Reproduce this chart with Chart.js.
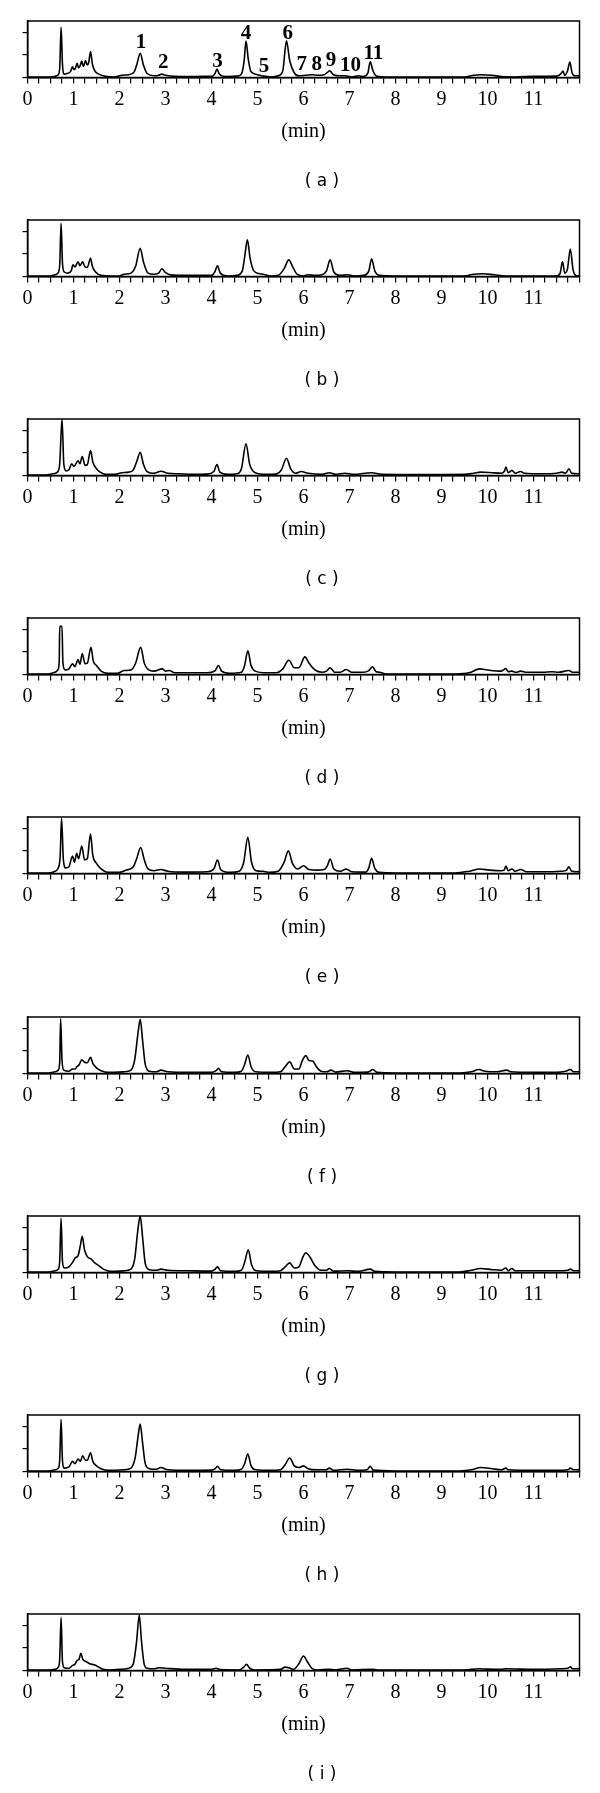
<!DOCTYPE html>
<html>
<head>
<meta charset="utf-8">
<script src="https://cdn.jsdelivr.net/npm/chart.js"></script>
<style>
  body { margin: 0; background: #fff; }
  #page { position: relative; width: 600px; height: 1793px; overflow: hidden; }
  .panel { position: absolute; left: 0; width: 600px; height: 199px; }
  .panel canvas { position: absolute; left: 0; top: 0; }
  .cap { position: absolute; left: 322px; top: 169px; transform: translateX(-50%);
         font: 17px "DejaVu Sans", sans-serif; line-height: 22px; white-space: pre; color: #000; }
</style>
</head>
<body>
<div id="page"></div>
<script>
// retention time (min) / detector response
var traceA = [[0,0.04],[0.5,0.05],[0.6,0.1],[0.66,0.2],[0.7,0.8],[0.73,4.45],[0.76,1.2],[0.8,0.3],[0.86,0.35],[0.93,0.5],[0.98,0.95],[1.01,0.7],[1.04,0.8],[1.08,1.25],[1.11,0.85],[1.14,1.0],[1.18,1.45],[1.21,1.0],[1.23,1.1],[1.26,1.5],[1.3,1.1],[1.33,1.3],[1.37,2.3],[1.41,1.2],[1.46,0.6],[1.55,0.3],[1.7,0.1],[1.9,0.05],[2.05,0.2],[2.2,0.25],[2.32,0.5],[2.38,1.2],[2.45,2.15],[2.52,1.1],[2.6,0.35],[2.75,0.15],[2.85,0.2],[2.92,0.3],[3.0,0.2],[3.2,0.1],[3.5,0.08],[3.8,0.1],[4.0,0.1],[4.07,0.3],[4.12,0.75],[4.17,0.3],[4.3,0.08],[4.55,0.12],[4.65,0.3],[4.71,1.5],[4.75,3.22],[4.8,1.6],[4.86,0.5],[5.0,0.25],[5.13,0.12],[5.3,0.05],[5.45,0.15],[5.55,0.6],[5.63,3.25],[5.7,1.5],[5.8,0.4],[5.9,0.15],[6.05,0.2],[6.2,0.25],[6.3,0.2],[6.45,0.25],[6.52,0.45],[6.57,0.6],[6.65,0.25],[6.8,0.15],[6.9,0.15],[7.05,0.05],[7.2,0.15],[7.3,0.08],[7.4,0.4],[7.45,1.4],[7.51,0.6],[7.6,0.1],[7.8,0.05],[8.5,0.05],[9.5,0.05],[9.7,0.2],[9.85,0.25],[10.1,0.2],[10.3,0.08],[10.6,0.05],[11.0,0.1],[11.5,0.12],[11.6,0.35],[11.64,0.56],[11.68,0.2],[11.74,0.6],[11.79,1.36],[11.84,0.4],[11.9,0.15],[12,0.15]];
var traceB = [[0,0.04],[0.5,0.05],[0.6,0.15],[0.66,0.3],[0.7,1.0],[0.73,4.7],[0.76,1.2],[0.8,0.4],[0.88,0.3],[0.95,0.5],[0.99,1.03],[1.03,0.85],[1.1,1.3],[1.14,0.95],[1.2,1.3],[1.25,0.85],[1.3,0.8],[1.37,1.6],[1.41,0.9],[1.48,0.4],[1.6,0.1],[1.8,0.05],[2.0,0.05],[2.1,0.2],[2.25,0.3],[2.35,0.9],[2.45,2.5],[2.52,1.3],[2.62,0.3],[2.75,0.2],[2.85,0.3],[2.92,0.68],[3.0,0.35],[3.15,0.12],[3.5,0.1],[3.8,0.1],[4.0,0.1],[4.07,0.4],[4.13,0.94],[4.19,0.3],[4.35,0.05],[4.55,0.1],[4.67,0.5],[4.73,2.0],[4.78,3.24],[4.84,1.6],[4.92,0.5],[5.05,0.25],[5.12,0.2],[5.3,0.05],[5.45,0.1],[5.58,0.7],[5.68,1.47],[5.76,0.9],[5.86,0.2],[6.0,0.05],[6.1,0.15],[6.25,0.1],[6.4,0.15],[6.5,0.5],[6.58,1.47],[6.66,0.4],[6.8,0.1],[6.95,0.15],[7.1,0.05],[7.3,0.1],[7.42,0.5],[7.48,1.56],[7.55,0.5],[7.65,0.1],[8.0,0.05],[9.5,0.05],[9.7,0.2],[9.9,0.25],[10.15,0.15],[10.4,0.05],[10.8,0.05],[11.5,0.05],[11.58,0.3],[11.63,1.32],[11.68,0.3],[11.74,0.7],[11.8,2.44],[11.86,0.6],[11.92,0.1],[12,0.05]];
var traceC = [[0,0.04],[0.4,0.05],[0.55,0.15],[0.65,0.3],[0.7,1.0],[0.75,5.0],[0.79,1.0],[0.84,0.4],[0.9,0.5],[0.96,1.03],[1.01,0.8],[1.1,1.3],[1.14,1.05],[1.19,1.68],[1.25,0.9],[1.3,0.95],[1.37,2.2],[1.42,1.2],[1.5,0.6],[1.58,0.3],[1.7,0.1],[1.9,0.1],[2.05,0.25],[2.2,0.3],[2.3,0.5],[2.38,1.3],[2.45,2.06],[2.52,1.0],[2.6,0.35],[2.75,0.2],[2.9,0.38],[3.05,0.2],[3.3,0.15],[3.6,0.1],[3.9,0.12],[4.05,0.35],[4.12,0.97],[4.18,0.3],[4.35,0.1],[4.55,0.15],[4.65,0.6],[4.75,2.8],[4.83,1.0],[4.95,0.25],[5.2,0.1],[5.4,0.12],[5.52,0.5],[5.63,1.53],[5.72,0.6],[5.82,0.2],[5.95,0.35],[6.1,0.2],[6.4,0.1],[6.56,0.25],[6.7,0.1],[6.9,0.2],[7.1,0.1],[7.48,0.25],[7.7,0.1],[8.5,0.08],[9.5,0.1],[9.7,0.2],[9.85,0.3],[10.1,0.25],[10.3,0.2],[10.37,0.4],[10.4,0.74],[10.45,0.25],[10.53,0.45],[10.6,0.2],[10.72,0.35],[10.8,0.2],[11.2,0.15],[11.5,0.2],[11.62,0.3],[11.7,0.2],[11.77,0.6],[11.83,0.2],[12,0.15]];
var traceD = [[0,0.04],[0.45,0.05],[0.6,0.2],[0.66,0.4],[0.69,1.2],[0.7,4.26],[0.75,4.26],[0.77,1.0],[0.82,0.4],[0.9,0.5],[0.98,0.94],[1.03,0.7],[1.1,1.32],[1.14,0.9],[1.19,1.85],[1.25,0.95],[1.3,1.0],[1.38,2.4],[1.43,1.2],[1.5,0.8],[1.6,0.3],[1.75,0.1],[1.95,0.1],[2.1,0.35],[2.25,0.4],[2.35,1.0],[2.46,2.4],[2.54,1.0],[2.62,0.45],[2.75,0.3],[2.93,0.5],[3.0,0.3],[3.08,0.35],[3.2,0.15],[3.5,0.15],[3.9,0.15],[4.08,0.35],[4.15,0.8],[4.22,0.3],[4.4,0.1],[4.65,0.2],[4.72,0.8],[4.79,2.1],[4.86,0.8],[4.95,0.3],[5.2,0.15],[5.4,0.15],[5.55,0.5],[5.68,1.26],[5.8,0.6],[5.9,0.6],[6.03,1.56],[6.12,1.0],[6.25,0.4],[6.4,0.2],[6.5,0.3],[6.58,0.59],[6.68,0.2],[6.8,0.2],[6.93,0.44],[7.05,0.2],[7.3,0.2],[7.42,0.35],[7.5,0.68],[7.58,0.25],[7.65,0.2],[7.8,0.05],[8.5,0.05],[9.3,0.05],[9.6,0.15],[9.83,0.5],[10.0,0.4],[10.3,0.3],[10.4,0.53],[10.45,0.25],[10.53,0.3],[10.62,0.2],[10.72,0.3],[10.85,0.2],[11.2,0.2],[11.4,0.25],[11.55,0.2],[11.77,0.35],[11.85,0.2],[12,0.2]];
var traceE = [[0,0.04],[0.45,0.05],[0.6,0.2],[0.67,0.5],[0.71,1.5],[0.74,4.9],[0.78,1.2],[0.83,0.5],[0.9,0.6],[0.98,1.55],[1.02,1.0],[1.07,1.78],[1.11,1.3],[1.18,2.44],[1.24,1.2],[1.3,1.3],[1.37,3.5],[1.42,1.6],[1.5,0.9],[1.6,0.4],[1.75,0.1],[2.0,0.1],[2.15,0.3],[2.3,0.6],[2.38,1.4],[2.46,2.3],[2.54,1.2],[2.62,0.4],[2.75,0.25],[2.9,0.36],[3.05,0.2],[3.4,0.12],[3.9,0.15],[4.05,0.4],[4.13,1.19],[4.2,0.35],[4.4,0.1],[4.6,0.2],[4.7,1.0],[4.79,3.2],[4.87,1.0],[4.97,0.25],[5.12,0.2],[5.25,0.1],[5.45,0.2],[5.58,1.0],[5.67,2.0],[5.76,0.9],[5.88,0.4],[6.0,0.68],[6.12,0.35],[6.3,0.3],[6.45,0.35],[6.52,0.7],[6.58,1.28],[6.66,0.4],[6.8,0.2],[6.93,0.39],[7.05,0.15],[7.35,0.12],[7.42,0.5],[7.48,1.34],[7.55,0.45],[7.65,0.1],[8.0,0.05],[9.3,0.05],[9.6,0.2],[9.83,0.4],[10.05,0.3],[10.3,0.25],[10.36,0.3],[10.4,0.65],[10.45,0.25],[10.53,0.4],[10.6,0.2],[10.72,0.35],[10.85,0.15],[11.2,0.15],[11.6,0.2],[11.72,0.3],[11.77,0.6],[11.83,0.2],[12,0.15]];
var traceF = [[0,0.04],[0.45,0.05],[0.6,0.15],[0.67,0.3],[0.7,1.0],[0.72,4.85],[0.75,1.2],[0.79,0.3],[0.9,0.2],[0.98,0.4],[1.04,0.4],[1.07,0.6],[1.12,0.75],[1.18,1.22],[1.24,1.0],[1.3,0.95],[1.37,1.43],[1.42,0.9],[1.5,0.5],[1.6,0.25],[1.75,0.1],[2.1,0.15],[2.25,0.3],[2.33,1.2],[2.4,3.5],[2.45,4.8],[2.5,3.0],[2.56,0.8],[2.65,0.2],[2.8,0.15],[2.9,0.3],[3.05,0.15],[3.5,0.1],[4.0,0.1],[4.1,0.25],[4.15,0.45],[4.22,0.15],[4.5,0.1],[4.65,0.2],[4.72,0.8],[4.79,1.64],[4.86,0.6],[4.96,0.15],[5.3,0.1],[5.5,0.15],[5.6,0.6],[5.7,1.04],[5.8,0.4],[5.9,0.4],[5.97,1.1],[6.05,1.58],[6.12,1.15],[6.2,1.1],[6.28,0.6],[6.38,0.2],[6.5,0.15],[6.6,0.3],[6.7,0.12],[6.95,0.25],[7.1,0.1],[7.4,0.12],[7.51,0.35],[7.6,0.1],[8.0,0.05],[9.4,0.05],[9.65,0.15],[9.81,0.35],[9.95,0.2],[10.2,0.15],[10.42,0.3],[10.5,0.15],[11.0,0.1],[11.5,0.1],[11.7,0.2],[11.8,0.35],[11.87,0.15],[12,0.15]];
var traceG = [[0,0.04],[0.45,0.05],[0.6,0.15],[0.67,0.3],[0.7,1.0],[0.73,4.8],[0.76,1.0],[0.8,0.4],[0.9,0.5],[0.98,0.9],[1.04,1.3],[1.1,1.5],[1.15,2.4],[1.19,3.2],[1.24,2.0],[1.3,1.4],[1.38,1.2],[1.45,0.9],[1.55,0.6],[1.65,0.3],[1.8,0.1],[2.1,0.15],[2.25,0.3],[2.33,1.2],[2.4,3.8],[2.45,5.0],[2.5,3.2],[2.56,0.8],[2.65,0.25],[2.8,0.2],[2.9,0.3],[3.05,0.2],[3.5,0.15],[4.0,0.12],[4.08,0.3],[4.13,0.5],[4.2,0.15],[4.5,0.1],[4.65,0.2],[4.72,0.9],[4.8,2.0],[4.87,0.7],[4.97,0.15],[5.3,0.1],[5.5,0.15],[5.6,0.5],[5.7,0.85],[5.8,0.4],[5.9,0.5],[5.98,1.3],[6.05,1.75],[6.15,1.3],[6.25,0.6],[6.38,0.2],[6.5,0.2],[6.56,0.35],[6.65,0.12],[6.95,0.15],[7.2,0.1],[7.45,0.3],[7.55,0.1],[8.0,0.05],[9.4,0.05],[9.65,0.2],[9.85,0.35],[10.1,0.25],[10.3,0.2],[10.4,0.4],[10.45,0.15],[10.53,0.35],[10.6,0.15],[11.0,0.15],[11.5,0.15],[11.75,0.2],[11.8,0.3],[11.87,0.15],[12,0.15]];
var traceH = [[0,0.04],[0.45,0.05],[0.6,0.15],[0.67,0.3],[0.7,1.0],[0.73,4.6],[0.76,1.0],[0.8,0.3],[0.9,0.4],[0.98,0.9],[1.03,0.7],[1.1,1.1],[1.15,0.9],[1.2,1.4],[1.26,1.0],[1.3,1.0],[1.37,1.65],[1.42,0.9],[1.5,0.5],[1.6,0.25],[1.75,0.1],[2.1,0.15],[2.25,0.3],[2.34,1.2],[2.4,3.0],[2.45,4.2],[2.5,2.6],[2.56,0.7],[2.65,0.25],[2.8,0.2],[2.9,0.35],[3.05,0.15],[3.5,0.1],[4.0,0.12],[4.08,0.25],[4.13,0.45],[4.2,0.15],[4.5,0.1],[4.65,0.2],[4.72,0.7],[4.79,1.55],[4.86,0.5],[4.96,0.15],[5.3,0.1],[5.5,0.15],[5.6,0.6],[5.7,1.2],[5.8,0.5],[5.9,0.35],[6.0,0.5],[6.1,0.25],[6.3,0.15],[6.5,0.15],[6.56,0.3],[6.65,0.1],[6.95,0.2],[7.2,0.1],[7.38,0.15],[7.45,0.45],[7.52,0.12],[8.0,0.05],[9.4,0.05],[9.65,0.15],[9.85,0.35],[10.1,0.25],[10.3,0.15],[10.4,0.3],[10.45,0.15],[11.0,0.1],[11.5,0.1],[11.75,0.15],[11.8,0.3],[11.87,0.15],[12,0.15]];
var traceI = [[0,0.04],[0.45,0.05],[0.6,0.1],[0.67,0.3],[0.7,1.0],[0.73,4.7],[0.76,0.8],[0.8,0.25],[0.9,0.2],[0.98,0.45],[1.03,0.54],[1.08,0.9],[1.12,1.0],[1.16,1.52],[1.2,1.0],[1.27,0.8],[1.35,0.6],[1.45,0.5],[1.55,0.3],[1.65,0.1],[1.8,0.05],[2.0,0.1],[2.2,0.2],[2.3,0.6],[2.37,2.5],[2.43,4.9],[2.48,2.5],[2.54,0.5],[2.6,0.2],[2.75,0.15],[2.85,0.25],[3.0,0.2],[3.4,0.1],[4.0,0.1],[4.1,0.2],[4.2,0.08],[4.6,0.05],[4.7,0.3],[4.76,0.54],[4.83,0.2],[4.95,0.05],[5.5,0.1],[5.6,0.3],[5.68,0.25],[5.78,0.1],[5.9,0.6],[6.0,1.28],[6.08,0.8],[6.18,0.2],[6.3,0.05],[6.55,0.1],[6.7,0.05],[6.95,0.2],[7.05,0.05],[7.5,0.1],[7.6,0.05],[9.5,0.05],[9.8,0.15],[10.0,0.12],[10.3,0.1],[10.4,0.15],[11.0,0.1],[11.6,0.15],[11.75,0.2],[11.8,0.33],[11.85,0.15],[12,0.15]];

var traces = [traceA, traceB, traceC, traceD, traceE, traceF, traceG, traceH, traceI];
var panelNames = ['a', 'b', 'c', 'd', 'e', 'f', 'g', 'h', 'i'];

// numbered peaks in panel (a): label, retention time, height of the label
var peakNums = ['1', '2', '3', '4', '5', '6', '7', '8', '9', '10', '11'];
var peakTimes = [2.47, 2.95, 4.13, 4.75, 5.14, 5.66, 5.96, 6.29, 6.6, 7.02, 7.52];
var peakLabelY = [3.07, 1.3, 1.45, 3.9, 0.95, 3.9, 1.1, 1.1, 1.54, 1.04, 2.1];

var xMax = 12;
var yMax = 5;

var PANEL_H = 199.1;
var page = document.getElementById('page');

// box round the plot area
var framePlugin = {
    id: 'frame',
    afterDraw: function (chart) {
        var a = chart.chartArea;
        var ctx = chart.ctx;
        ctx.save();
        ctx.strokeStyle = '#000';
        ctx.lineWidth = 1.5;
        ctx.strokeRect(a.left, a.top, a.right - a.left, a.bottom - a.top);
        ctx.restore();
    }
};

var peakLabelPlugin = {
    id: 'peakLabels',
    afterDatasetsDraw: function (chart) {
        var ctx = chart.ctx;
        var xs = chart.scales.x;
        var ys = chart.scales.y;
        ctx.save();
        ctx.fillStyle = '#000';
        ctx.font = 'bold 21px "Liberation Serif", serif';
        ctx.textAlign = 'center';
        ctx.textBaseline = 'middle';
        for (var i = 0; i < peakNums.length; i++) {
            ctx.fillText(peakNums[i], xs.getPixelForValue(peakTimes[i]), ys.getPixelForValue(peakLabelY[i]));
        }
        ctx.restore();
    }
};

function criarPainel(k) {
    var div = document.createElement('div');
    div.className = 'panel';
    div.style.top = Math.round(k * PANEL_H) + 'px';
    page.appendChild(div);

    var canvas = document.createElement('canvas');
    canvas.width = 600;
    canvas.height = 199;
    canvas.style.width = '600px';
    canvas.style.height = '199px';
    div.appendChild(canvas);

    var cap = document.createElement('div');
    cap.className = 'cap';
    cap.textContent = '( ' + panelNames[k] + ' )';
    div.appendChild(cap);

    var serif = { family: '"Liberation Serif", "Times New Roman", serif', size: 20 };

    var config = {
        type: 'line',
        data: {
            datasets: [{
                data: traces[k].map(function (p) { return { x: p[0], y: p[1] }; }),
                borderColor: '#000',
                borderWidth: 1.6,
                pointRadius: 0,
                fill: false,
                cubicInterpolationMode: 'monotone'
            }]
        },
        options: {
            responsive: false,
            animation: false,
            devicePixelRatio: 1,
            layout: { padding: { top: 21, right: 20.5, left: 0, bottom: 0 } },
            plugins: { legend: { display: false }, tooltip: { enabled: false } },
            scales: {
                x: {
                    type: 'linear',
                    min: 0,
                    max: xMax,
                    ticks: {
                        stepSize: 0.25,
                        autoSkip: false,
                        maxRotation: 0,
                        padding: 4,
                        color: '#000',
                        font: serif,
                        callback: function (v) { return (Number.isInteger(v) && v < xMax) ? String(v) : ''; }
                    },
                    grid: { drawOnChartArea: false, drawTicks: true, tickLength: 6, color: '#000', lineWidth: 1.2 },
                    border: { display: true, color: '#000', width: 1.5 },
                    title: { display: true, text: '(min)', color: '#000', font: serif, padding: { top: 0, bottom: 55 } },
                    afterFit: function (s) { s.height = 199 - 77.5; }
                },
                y: {
                    min: 0,
                    max: yMax,
                    ticks: { stepSize: 1, padding: 0, callback: function () { return ''; } },
                    grid: { drawOnChartArea: false, drawTicks: true, tickLength: 5, color: '#000', lineWidth: 1.2 },
                    border: { display: true, color: '#000', width: 1.5 },
                    afterFit: function (s) { s.width = 27.5; }
                }
            }
        },
        plugins: k === 0 ? [framePlugin, peakLabelPlugin] : [framePlugin]
    };
    new Chart(canvas, config);
}

for (var k = 0; k < traces.length; k++) {
    criarPainel(k);
}
</script>
</body>
</html>
